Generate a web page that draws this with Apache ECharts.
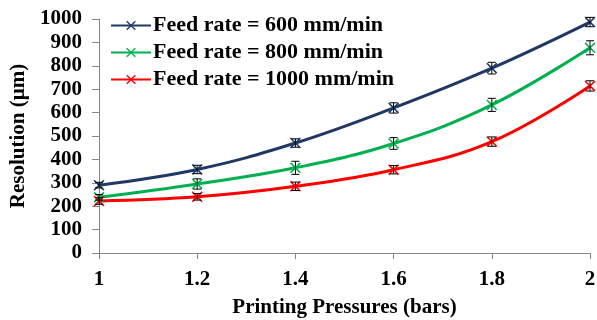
<!DOCTYPE html>
<html>
<head>
<meta charset="utf-8">
<script src="https://cdn.jsdelivr.net/npm/echarts@6/dist/echarts.min.js"></script>
<style>
  html, body { margin: 0; padding: 0; background: #fff; }
  #chart { width: 597px; height: 320px; }
</style>
</head>
<body>
<div id="chart"></div>
<script>
// ======================
// DATA
// ======================
const pressures = [1, 1.2, 1.4, 1.6, 1.8, 2];
const seriesNames = ["Feed rate = 600 mm/min", "Feed rate = 800 mm/min", "Feed rate = 1000 mm/min"];
const res600 = [290, 357, 470, 620, 790, 987];
const res800 = [238, 295, 364, 468, 633, 877];
const res1000 = [222, 240, 285, 356, 476, 714];
const err600 = [12, 18, 18, 22, 25, 20];
const err800 = [12, 22, 28, 25, 28, 30];
const err1000 = [14, 14, 18, 18, 20, 22];

// ======================
// STYLE
// ======================
const COLORS = ["#1f3864", "#00b050", "#ff0000"];
const FONT = "'Liberation Serif', 'Times New Roman', serif";
const CROSS = "path://M0,1L1,0L5,4L9,0L10,1L6,5L10,9L9,10L5,6L1,10L0,9L4,5Z";
const FS = 21;

const values = [res600, res800, res1000];
const errors = [err600, err800, err1000];

const lineSeries = values.map((vals, i) => ({
    name: seriesNames[i],
    type: "line",
    smooth: 0.4,
    symbol: CROSS,
    symbolSize: 11,
    z: 3,
    data: pressures.map((p, j) => [p, vals[j]]),
    itemStyle: { color: COLORS[i] },
    lineStyle: { width: 3, color: COLORS[i] }
}));

const errorSeries = values.map((vals, i) => ({
    type: "custom",
    z: 4,
    silent: true,
    data: pressures.map((p, j) => [p, vals[j] - errors[i][j], vals[j] + errors[i][j]]),
    renderItem: (params, api) => {
        const lo = api.coord([api.value(0), api.value(1)]);
        const hi = api.coord([api.value(0), api.value(2)]);
        const w = 4;
        const style = { stroke: "#000", lineWidth: 1 };
        return {
            type: "group",
            children: [
                { type: "line", shape: { x1: lo[0], y1: lo[1], x2: hi[0], y2: hi[1] }, style },
                { type: "line", shape: { x1: lo[0] - w, y1: lo[1], x2: lo[0] + w, y2: lo[1] }, style },
                { type: "line", shape: { x1: hi[0] - w, y1: hi[1], x2: hi[0] + w, y2: hi[1] }, style }
            ]
        };
    }
}));

const chart = echarts.init(document.getElementById("chart"));
chart.setOption({
    backgroundColor: "#fff",
    animation: false,
    textStyle: { fontFamily: FONT },
    grid: { left: 99, right: 7, top: 19, bottom: 67, containLabel: false, outerBoundsMode: "none" },
    legend: {
        data: seriesNames,
        orient: "vertical",
        left: 110,
        top: 14,
        itemWidth: 40,
        itemHeight: 12,
        itemGap: 4,
        padding: [0, 0, 0, 0],
        textStyle: { fontFamily: FONT, fontSize: 22, fontWeight: "bold", color: "#000", padding: [0, 0, 0, -3], lineHeight: 23 }
    },
    xAxis: {
        type: "value",
        min: 1,
        max: 2,
        interval: 0.2,
        name: "Printing Pressures (bars)",
        nameLocation: "middle",
        nameGap: 44,
        nameTextStyle: { fontFamily: FONT, fontSize: FS, fontWeight: "bold", color: "#000" },
        axisLine: { lineStyle: { color: "#868686" } },
        axisTick: { show: true, length: 6, lineStyle: { color: "#868686" } },
        axisLabel: { fontFamily: FONT, fontSize: FS, fontWeight: "bold", color: "#000", margin: 16 },
        splitLine: { show: false }
    },
    yAxis: {
        type: "value",
        min: 0,
        max: 1000,
        interval: 100,
        name: "Resolution (µm)",
        nameLocation: "middle",
        nameGap: 67,
        nameTextStyle: { fontFamily: FONT, fontSize: FS, fontWeight: "bold", color: "#000" },
        axisLine: { show: true, lineStyle: { color: "#868686" } },
        axisTick: { show: true, length: 7, lineStyle: { color: "#868686" } },
        axisLabel: { fontFamily: FONT, fontSize: FS, fontWeight: "bold", color: "#000", margin: 17, formatter: v => String(v) },
        splitLine: { show: false }
    },
    series: [...lineSeries, ...errorSeries]
});
</script>
</body>
</html>
